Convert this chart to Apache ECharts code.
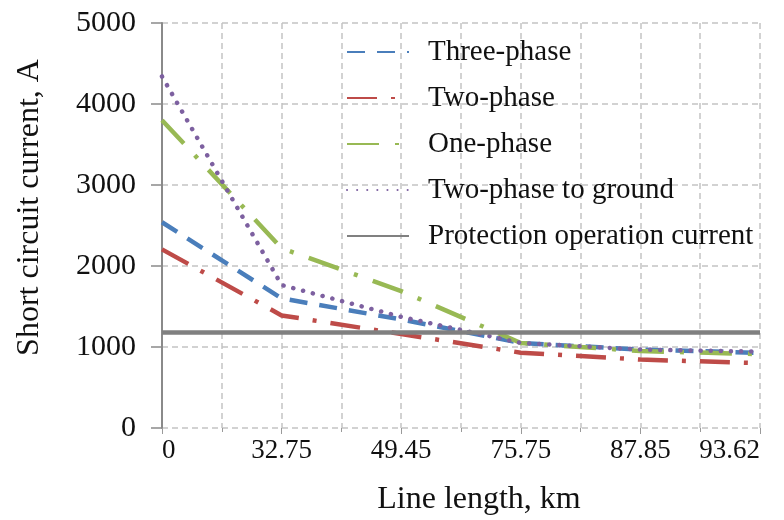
<!DOCTYPE html>
<html>
<head>
<meta charset="utf-8">
<script src="https://cdn.jsdelivr.net/npm/echarts@6/dist/echarts.min.js"></script>
<style>
  html, body { margin: 0; padding: 0; background: #fff; }
  #chart { width: 784px; height: 520px; }
</style>
</head>
<body>
<div id="chart"></div>
<script>
// line length labels (evenly spaced on the axis)
var xLabels = ['0', '32.75', '49.45', '75.75', '87.85', '93.62'];
var yTicks = [0, 1000, 2000, 3000, 4000, 5000];

// short circuit currents, A
var threePhase = [2540, 1600, 1340, 1050, 968, 928];
var twoPhase = [2205, 1390, 1160, 930, 845, 800];
var onePhase = [3800, 2220, 1690, 1050, 950, 912];
var twoPhaseGround = [4340, 1765, 1372, 1050, 968, 942];
var protection = [1180, 1180, 1180, 1180, 1180, 1180];

function pairs(arr) {
    return arr.map(function (v, i) { return [i, v]; });
}

function drawChart() {
    var myChart = echarts.init(document.getElementById('chart'));
    var font = 'Liberation Serif';
    var gridColor = '#c4c4c4';

    function lineSeries(name, data, color, dash, cap) {
        return {
            name: name,
            type: 'line',
            data: pairs(data),
            symbol: 'none',
            silent: true,
            lineStyle: {
                color: color,
                width: 4.5,
                type: dash,
                cap: cap || 'butt'
            },
            itemStyle: { color: color }
        };
    }

    var option = {
        animation: false,
        textStyle: { fontFamily: font },
        grid: {
            left: 162,
            right: 24,
            top: 23,
            bottom: 92,
            containLabel: false,
            outerBoundsMode: 'none'
        },
        legend: {
            orient: 'vertical',
            left: 341,
            top: 32,
            itemWidth: 62,
            itemHeight: 14,
            itemGap: 16,
            itemStyle: { opacity: 0 },
            textStyle: {
                fontFamily: font,
                fontSize: 29,
                lineHeight: 30,
                color: '#111',
                padding: [0, 0, 0, 14]
            },
            data: ['Three-phase', 'Two-phase', 'One-phase', 'Two-phase to ground', 'Protection operation current']
        },
        xAxis: {
            type: 'value',
            min: 0,
            max: xLabels.length - 1,
            interval: 1,
            name: 'Line length, km',
            nameLocation: 'middle',
            nameGap: 56,
            nameTextStyle: { fontFamily: font, fontSize: 32, color: '#111', padding: [0, 0, 0, 36] },
            axisLine: { show: false },
            axisTick: {
                show: true,
                length: 6,
                lineStyle: { color: '#9a9a9a' }
            },
            minorTick: {
                show: true,
                splitNumber: 2,
                length: 4,
                lineStyle: { color: '#9a9a9a' }
            },
            axisLabel: {
                fontFamily: font,
                fontSize: 27,
                color: '#111',
                margin: 9,
                alignMinLabel: 'left',
                alignMaxLabel: 'right',
                formatter: function (v) { return xLabels[v]; }
            },
            splitLine: {
                show: true,
                lineStyle: { color: gridColor, type: [6, 4], width: 1.5 }
            },
            minorSplitLine: {
                show: true,
                lineStyle: { color: gridColor, type: [6, 4], width: 1.5 }
            }
        },
        yAxis: {
            type: 'value',
            min: yTicks[0],
            max: yTicks[yTicks.length - 1],
            interval: 1000,
            name: 'Short circuit current, A',
            nameLocation: 'middle',
            nameGap: 116,
            nameTextStyle: { fontFamily: font, fontSize: 32, color: '#111', padding: [0, 0, 0, 36] },
            axisLine: {
                show: true,
                lineStyle: { color: '#8a8a8a', width: 2 }
            },
            axisTick: {
                show: true,
                length: 11,
                lineStyle: { color: '#8a8a8a', width: 1.5 }
            },
            axisLabel: {
                fontFamily: font,
                fontSize: 30,
                color: '#111',
                margin: 26,
                formatter: function (v) { return String(v); }
            },
            splitLine: {
                show: true,
                lineStyle: { color: gridColor, type: [6, 4], width: 1.5 }
            }
        },
        series: [
            lineSeries('Three-phase', threePhase, '#4a7ebb', [18, 12]),
            lineSeries('Two-phase', twoPhase, '#be4b48', [30, 14, 4, 14]),
            lineSeries('One-phase', onePhase, '#98b954', [32, 16, 4, 16]),
            lineSeries('Two-phase to ground', twoPhaseGround, '#7d60a0', [0.1, 10], 'round'),
            lineSeries('Protection operation current', protection, '#808080', 'solid')
        ]
    };

    myChart.setOption(option);
}

drawChart();
</script>
</body>
</html>
